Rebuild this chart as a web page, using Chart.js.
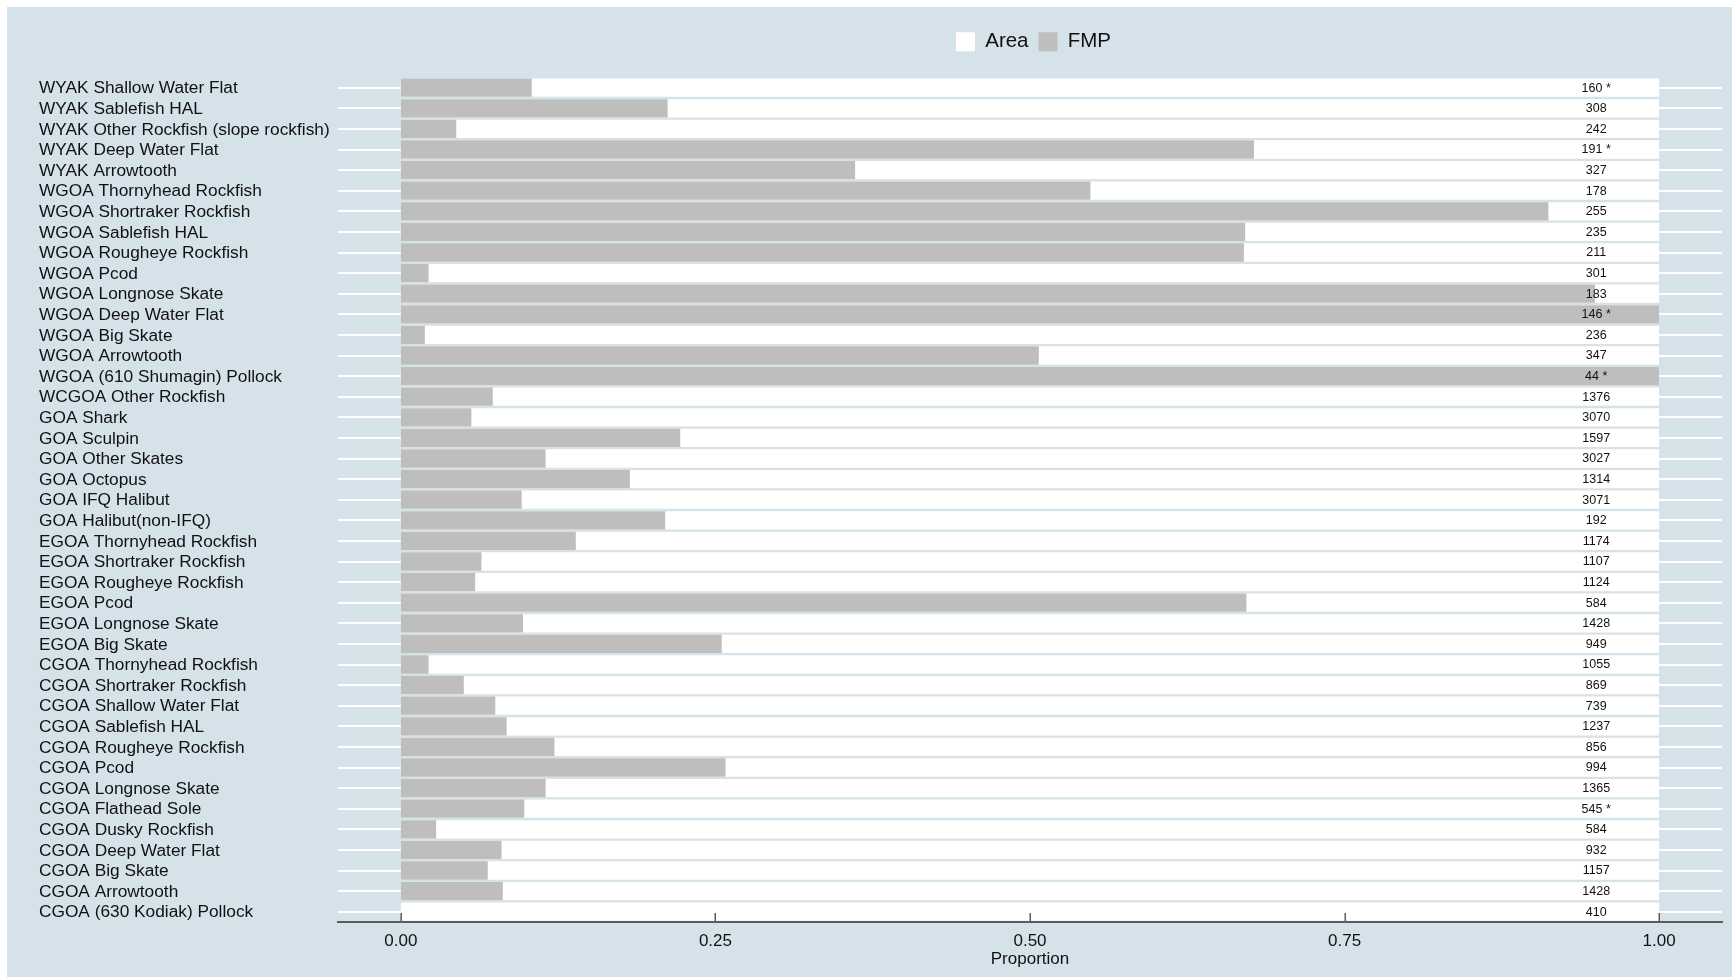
<!DOCTYPE html>
<html>
<head>
<meta charset="utf-8">
<title>FMP share by area and target</title>
<script src="https://cdn.jsdelivr.net/npm/chart.js@4.4.1/dist/chart.umd.min.js"></script>
<style>
  html, body { margin: 0; padding: 0; background: #ffffff; }
  #frame {
    position: absolute; left: 7px; top: 7px;
    width: 1725px; height: 970px;
    background: #d6e2e9;
  }
</style>
</head>
<body>
<div id="frame"><canvas id="chart"></canvas></div>
<script>
// Area / target combinations, top to bottom
const categories = [
  'WYAK Shallow Water Flat', 'WYAK Sablefish HAL', 'WYAK Other Rockfish (slope rockfish)',
  'WYAK Deep Water Flat', 'WYAK Arrowtooth', 'WGOA Thornyhead Rockfish',
  'WGOA Shortraker Rockfish', 'WGOA Sablefish HAL', 'WGOA Rougheye Rockfish',
  'WGOA Pcod', 'WGOA Longnose Skate', 'WGOA Deep Water Flat', 'WGOA Big Skate',
  'WGOA Arrowtooth', 'WGOA (610 Shumagin) Pollock', 'WCGOA Other Rockfish',
  'GOA Shark', 'GOA Sculpin', 'GOA Other Skates', 'GOA Octopus', 'GOA IFQ Halibut',
  'GOA Halibut(non-IFQ)', 'EGOA Thornyhead Rockfish', 'EGOA Shortraker Rockfish',
  'EGOA Rougheye Rockfish', 'EGOA Pcod', 'EGOA Longnose Skate', 'EGOA Big Skate',
  'CGOA Thornyhead Rockfish', 'CGOA Shortraker Rockfish', 'CGOA Shallow Water Flat',
  'CGOA Sablefish HAL', 'CGOA Rougheye Rockfish', 'CGOA Pcod', 'CGOA Longnose Skate',
  'CGOA Flathead Sole', 'CGOA Dusky Rockfish', 'CGOA Deep Water Flat', 'CGOA Big Skate',
  'CGOA Arrowtooth', 'CGOA (630 Kodiak) Pollock'
];

// Area proportion (full bar)
const areaShare = [
  1, 1, 1, 1, 1, 1, 1, 1, 1, 1, 1, 1, 1, 1, 1, 1, 1, 1, 1, 1, 1,
  1, 1, 1, 1, 1, 1, 1, 1, 1, 1, 1, 1, 1, 1, 1, 1, 1, 1, 1, 1
];

// FMP proportion
const fmpShare = [
  0.104, 0.212, 0.044, 0.678, 0.361, 0.548, 0.912, 0.671, 0.670, 0.022,
  0.949, 1.000, 0.019, 0.507, 1.000, 0.073, 0.056, 0.222, 0.115, 0.182,
  0.096, 0.210, 0.139, 0.064, 0.059, 0.672, 0.097, 0.255, 0.022, 0.050,
  0.075, 0.084, 0.122, 0.258, 0.115, 0.098, 0.028, 0.080, 0.069, 0.081,
  0.000
];

// Number of records per row, and the note printed after it
const sampleSizes = [
  160, 308, 242, 191, 327, 178, 255, 235, 211, 301,
  183, 146, 236, 347, 44, 1376, 3070, 1597, 3027, 1314,
  3071, 192, 1174, 1107, 1124, 584, 1428, 949, 1055, 869,
  739, 1237, 856, 994, 1365, 545, 584, 932, 1157, 1428,
  410
];
const sizeNotes = [
  '*', '', '', '*', '', '', '', '', '', '',
  '', '*', '', '', '*', '', '', '', '', '',
  '', '', '', '', '', '', '', '', '', '',
  '', '', '', '', '', '*', '', '', '', '',
  ''
];

// x-axis ticks and where the counts are written
const xTicks = [0, 0.25, 0.5, 0.75, 1];
const countLabelAt = 0.95;

const FONT = 'Liberation Sans, Arial, Helvetica, sans-serif';
const INK = '#111111';
const AXIS = '#5c5c5c';

// inward tick marks on the x axis
const innerTicks = {
  id: 'innerTicks',
  afterDatasetsDraw(chart) {
    const xs = chart.scales.x;
    const y0 = chart.chartArea.bottom;
    const ctx = chart.ctx;
    ctx.save();
    ctx.strokeStyle = AXIS;
    ctx.lineWidth = 1.5;
    xs.ticks.forEach(t => {
      const px = Math.round(xs.getPixelForValue(t.value)) + 0.25;
      ctx.beginPath();
      ctx.moveTo(px, y0);
      ctx.lineTo(px, y0 - 9);
      ctx.stroke();
    });
    ctx.restore();
  }
};

// sample size written at the right of each row
const countLabels = {
  id: 'countLabels',
  afterDatasetsDraw(chart) {
    const xs = chart.scales.x, ys = chart.scales.y;
    const ctx = chart.ctx;
    ctx.save();
    ctx.font = '12.5px ' + FONT;
    ctx.fillStyle = INK;
    ctx.textAlign = 'center';
    ctx.textBaseline = 'middle';
    const x = xs.getPixelForValue(countLabelAt);
    sampleSizes.forEach((n, i) => {
      const txt = sizeNotes[i] ? n + ' ' + sizeNotes[i] : String(n);
      ctx.fillText(txt, x, ys.getPixelForValue(i) + 0.5);
    });
    ctx.restore();
  }
};

// centre the legend over the plot region rather than the axis span
const legendShift = {
  id: 'legendShift',
  afterLayout(chart) {
    const lg = chart.legend;
    if (!lg) return;
    lg.left += 3.5;
    lg.right += 3.5;
  }
};

new Chart(document.getElementById('chart'), {
  type: 'bar',
  data: {
    labels: categories,
    datasets: [
      {
        label: 'Area',
        data: areaShare,
        backgroundColor: '#ffffff',
        borderWidth: 0,
        order: 2,
        xAxisID: 'x', yAxisID: 'y'
      },
      {
        label: 'FMP',
        data: fmpShare,
        backgroundColor: '#bebebe',
        borderWidth: 0,
        order: 1,
        xAxisID: 'x', yAxisID: 'y'
      }
    ]
  },
  options: {
    indexAxis: 'y',
    responsive: true,
    maintainAspectRatio: false,
    devicePixelRatio: 1,
    animation: false,
    layout: { padding: { left: 32, right: 10, top: 14.55, bottom: 7 } },
    datasets: {
      bar: { grouped: false, categoryPercentage: 1, barPercentage: 0.89 }
    },
    scales: {
      x: {
        type: 'linear',
        position: 'bottom',
        min: -0.05,
        max: 1.05,
        afterBuildTicks(s) { s.ticks = xTicks.map(v => ({ value: v })); },
        afterFit(s) { s.height = 48; },
        ticks: {
          callback: v => Number(v).toFixed(2),
          font: { family: FONT, size: 17 },
          color: INK,
          padding: 9,
          autoSkip: false,
          maxRotation: 0
        },
        grid: { display: false, drawTicks: false },
        border: { display: true, color: AXIS, width: 2 },
        title: {
          display: true,
          text: 'Proportion',
          font: { family: FONT, size: 17 },
          color: INK,
          padding: { top: 0, bottom: 0 }
        }
      },
      y: {
        type: 'category',
        position: 'left',
        offset: true,
        afterFit(s) { s.width = 299; },
        ticks: {
          autoSkip: false,
          crossAlign: 'far',
          labelOffset: 1,
          font: { family: FONT, size: 17.3 },
          color: INK,
          padding: 0
        },
        grid: { display: true, offset: false, color: '#ffffff', lineWidth: 2, drawTicks: false },
        border: { display: false }
      },
      spacer: {
        type: 'linear',
        position: 'top',
        display: true,
        afterFit(s) { s.height = 15.35; },
        ticks: { display: false },
        grid: { display: false, drawTicks: false },
        border: { display: false }
      }
    },
    plugins: {
      legend: {
        display: true,
        position: 'top',
        fullSize: false,
        labels: {
          boxWidth: 19,
          boxHeight: 19,
          padding: 10,
          color: INK,
          font: { family: FONT, size: 20.5 },
          sort: (a, b) => a.datasetIndex - b.datasetIndex
        }
      },
      tooltip: { enabled: false }
    }
  },
  plugins: [innerTicks, countLabels, legendShift]
});
</script>
</body>
</html>
